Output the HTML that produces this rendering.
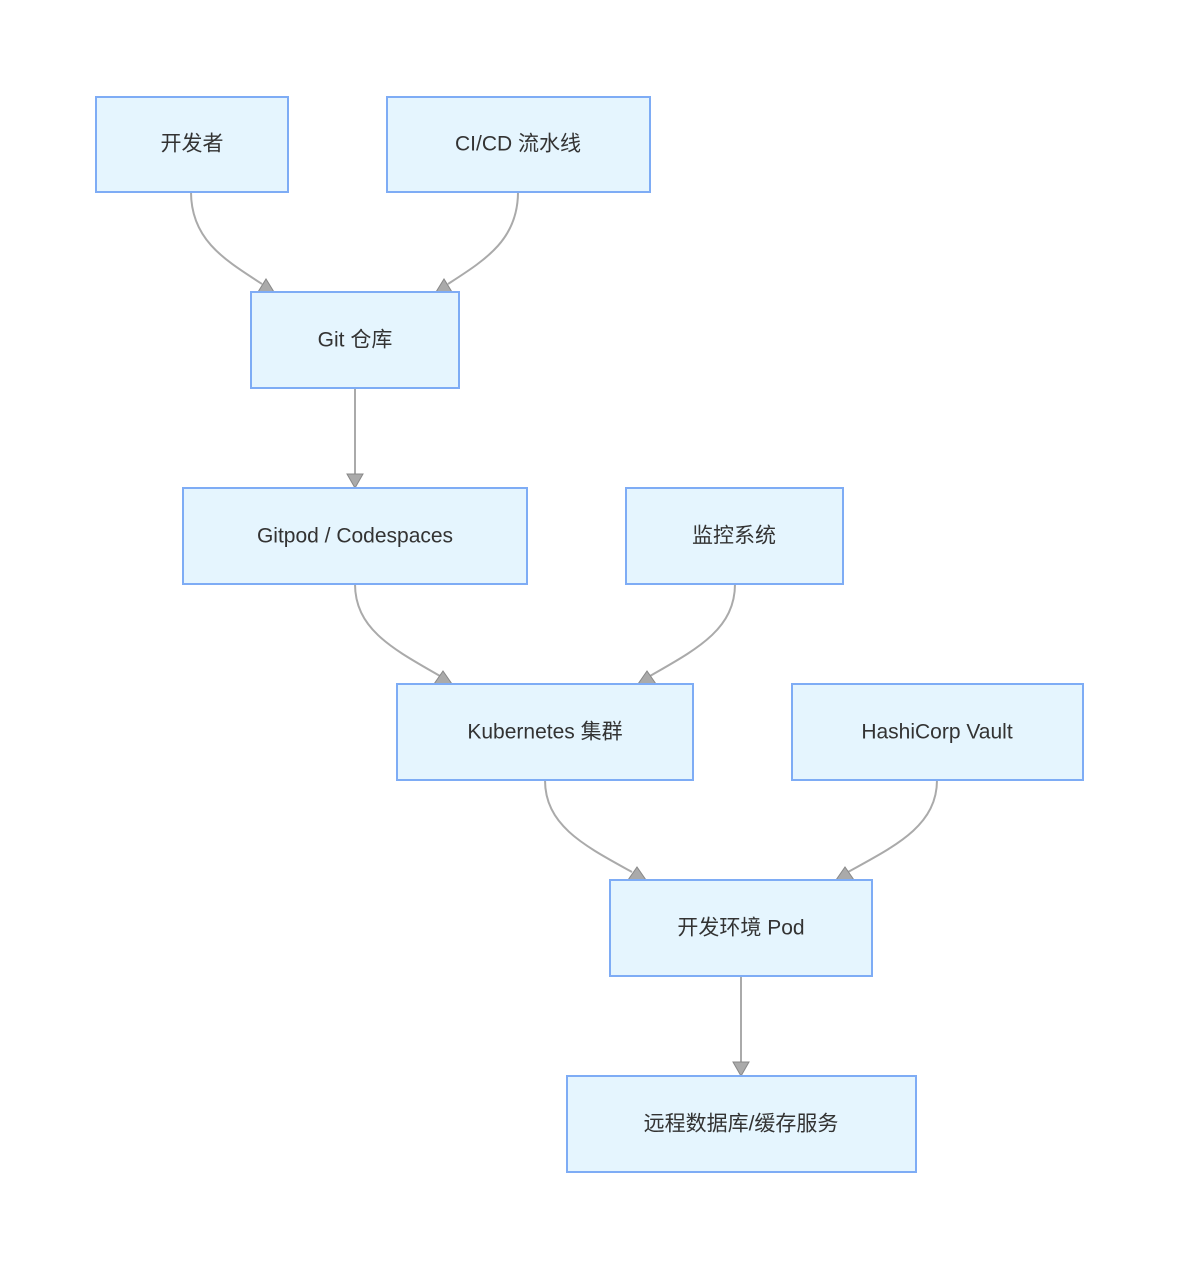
<!DOCTYPE html>
<html><head><meta charset="utf-8"><style>
html,body{margin:0;padding:0;background:#fff;}
svg text{font-family:"Liberation Sans","Noto Sans CJK SC",sans-serif;font-size:21px;fill:#333;text-anchor:middle;dominant-baseline:central;}
</style></head><body>
<svg width="1178" height="1268" viewBox="0 0 1178 1268" xmlns="http://www.w3.org/2000/svg">
<g fill="none" stroke="#aaa" stroke-width="2">
<path d="M191,192 C191,240 225,260 262,284"/>
<path d="M518,192 C518,240 485,260 448,284"/>
<path d="M355,388 L355,476"/>
<path d="M355,584 C355,630 395,650 440,676"/>
<path d="M735,584 C735,630 695,650 650,676"/>
<path d="M545,780 C545,826 585,846 632,872"/>
<path d="M937,780 C937,826 895,846 848,872"/>
<path d="M741,976 L741,1064"/>
</g>
<g fill="#aaa" stroke="#888" stroke-width="1">
<polygon points="258,292 274,292 266,279"/>
<polygon points="436,292 452,292 444,279"/>
<polygon points="347,474 363,474 355,488"/>
<polygon points="434,684 452,684 443,671"/>
<polygon points="638,684 656,684 647,671"/>
<polygon points="628,880 646,880 637,867"/>
<polygon points="836,880 854,880 845,867"/>
<polygon points="733,1062 749,1062 741,1076"/>
</g>
<g fill="#e5f5fe" stroke="#7eacf5" stroke-width="2">
<rect x="96" y="97" width="192" height="95"/>
<rect x="387" y="97" width="263" height="95"/>
<rect x="251" y="292" width="208" height="96"/>
<rect x="183" y="488" width="344" height="96"/>
<rect x="626" y="488" width="217" height="96"/>
<rect x="397" y="684" width="296" height="96"/>
<rect x="792" y="684" width="291" height="96"/>
<rect x="610" y="880" width="262" height="96"/>
<rect x="567" y="1076" width="349" height="96"/>
</g>
<text x="192" y="144">开发者</text>
<text x="518" y="144">CI/CD 流水线</text>
<text x="355" y="340">Git 仓库</text>
<text x="355" y="536">Gitpod / Codespaces</text>
<text x="734" y="536">监控系统</text>
<text x="545" y="732">Kubernetes 集群</text>
<text x="937" y="732">HashiCorp Vault</text>
<text x="741" y="928">开发环境 Pod</text>
<text x="741" y="1124">远程数据库/缓存服务</text>
</svg>
</body></html>
